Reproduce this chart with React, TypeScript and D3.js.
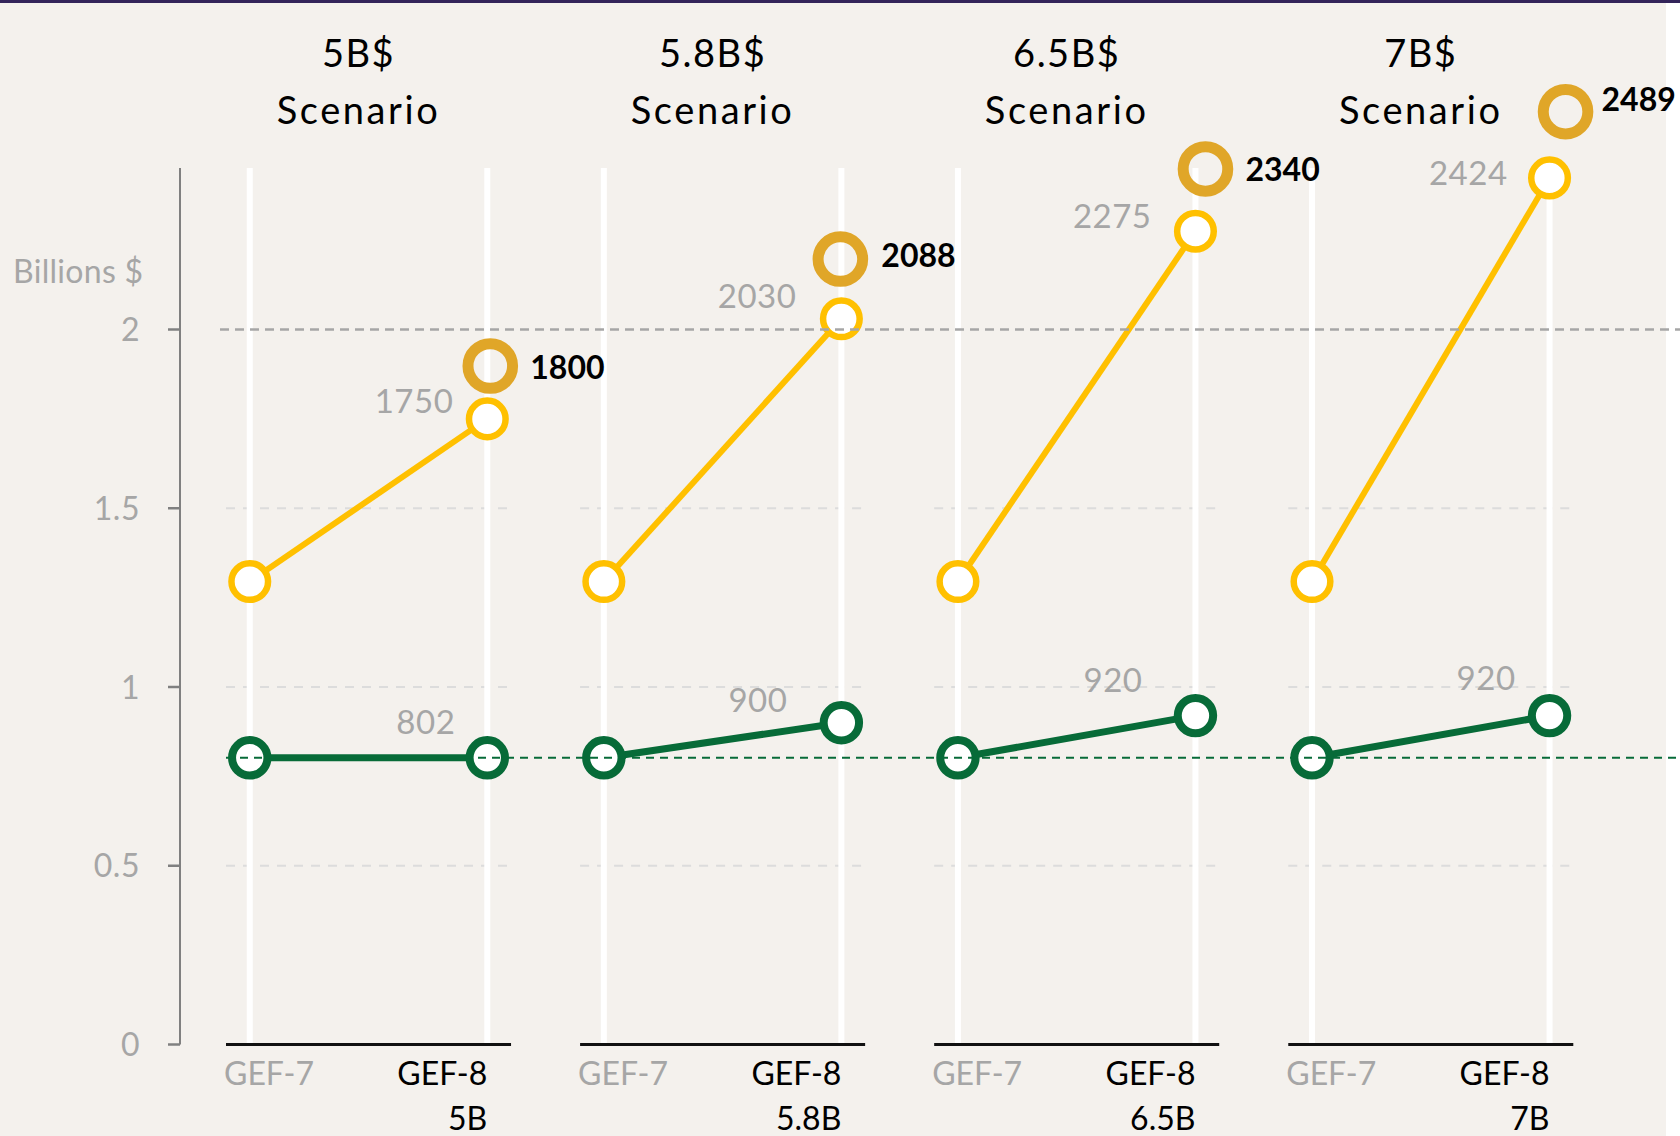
import React from 'react';
import * as d3 from 'd3';

// ---- data ----
const scenarios = ['5B$', '5.8B$', '6.5B$', '7B$'];
const scenarioShort = ['5B', '5.8B', '6.5B', '7B'];
const periods = ['GEF-7', 'GEF-8'];
const totalGef7 = [1.295, 1.295, 1.295, 1.295];
const totalGef8 = [1.75, 2.03, 2.275, 2.424];
const coreGef7 = [0.802, 0.802, 0.802, 0.802];
const coreGef8 = [0.802, 0.9, 0.92, 0.92];
const totalLabels = ['1750', '2030', '2275', '2424'];
const coreLabels = ['802', '900', '920', '920'];
const highlightValues = [1800, 2088, 2340, 2489];
const yTicks = [0, 0.5, 1, 1.5, 2];
const gridValues = [0.5, 1, 1.5];
const refTop = 2;
const refCore = 0.802;

// ---- layout nudges (pixels) ----
const totalLabelNudge = [[-34, -6], [-45, -11], [-44, -3], [-42, 7]];
const coreLabelNudge = [[-32, -24], [-54, -11], [-53, -24], [-34, -26]];
const ringNudge = [[3, -35], [-1, -39], [10, -39], [16, -43]];
const ringLabelNudge = [[40, 13], [41, 8], [40, 12], [36, -1]];

const W = 1680;
const H = 1136;
const FONT = 'Lato, "Open Sans", sans-serif';
const GREY = '#A6A6A6';
const YELLOW = '#FFC000';
const GREEN = '#076B38';
const ORANGE = '#E0A628';

export default function App() {
  const y = d3.scaleLinear().domain([0, 2]).range([1044.5, 329.5]);
  const panel = d3.scaleBand<string>().domain(scenarios).range([226, 1573.3]).paddingInner(0.195).paddingOuter(0);
  const bw = panel.bandwidth();
  const inner = d3.scalePoint<string>().domain(periods).range([0, bw]).padding(0.1);
  const line = d3.line<[number, number]>().x((d) => d[0]).y((d) => d[1]);

  const topY = 168;

  return (
    <svg width={W} height={H} style={{ position: 'absolute', left: 0, top: 0, display: 'block' }} fontFamily={FONT}>
      <rect x={0} y={0} width={W} height={H} fill="#FFFFFF" />
      <rect x={0} y={0} width={1666} height={H} fill="#F4F1ED" />
      <rect x={0} y={0} width={W} height={3} fill="#33245A" />

      {/* per-panel light grid */}
      {scenarios.map((s) => {
        const x0 = panel(s)!;
        return gridValues.map((g) => (
          <line key={s + g} x1={x0} x2={x0 + bw} y1={y(g)} y2={y(g)} stroke="#DCDCDC" strokeWidth={2} strokeDasharray="9 8" />
        ));
      })}

      {/* white verticals */}
      {scenarios.map((s) =>
        periods.map((p) => {
          const x = panel(s)! + inner(p)!;
          return <line key={s + p} x1={x} x2={x} y1={topY} y2={y(0)} stroke="#FFFFFF" strokeWidth={6} />;
        })
      )}

      {/* y axis */}
      <line x1={180} x2={180} y1={topY} y2={y(0)} stroke="#808080" strokeWidth={2} />
      {yTicks.map((t) => (
        <g key={t}>
          <line x1={168} x2={180} y1={y(t)} y2={y(t)} stroke="#808080" strokeWidth={2.5} />
          <text x={140} y={y(t)} dy="0.36em" textAnchor="end" fontSize={32} letterSpacing={0.5} fill={GREY}>
            {String(t)}
          </text>
        </g>
      ))}
      <text x={13} y={283} fontSize={32} letterSpacing={0.3} fill={GREY}>Billions $</text>

      {/* baselines */}
      {scenarios.map((s) => {
        const x0 = panel(s)!;
        return <line key={s} x1={x0} x2={x0 + bw} y1={y(0)} y2={y(0)} stroke="#111" strokeWidth={3} />;
      })}

      {/* titles */}
      {scenarios.map((s) => {
        const cx = panel(s)! + bw / 2 - 10;
        return (
          <g key={s}>
            <text x={cx} y={67} textAnchor="middle" fontSize={38} letterSpacing={1.5} fill="#000">{s}</text>
            <text x={cx} y={124} textAnchor="middle" fontSize={38} letterSpacing={2.6} fill="#000">Scenario</text>
          </g>
        );
      })}

      {/* x labels */}
      {scenarios.map((s, i) => {
        const x0 = panel(s)!;
        const x8 = x0 + inner('GEF-8')!;
        return (
          <g key={s}>
            <text x={x0 - 2} y={1085} fontSize={32} fill={GREY}>{periods[0]}</text>
            <text x={x8} y={1085} textAnchor="end" fontSize={32} fill="#000">{periods[1]}</text>
            <text x={x8} y={1130} textAnchor="end" fontSize={32} fill="#000">{scenarioShort[i]}</text>
          </g>
        );
      })}

      {/* total (yellow) series */}
      {scenarios.map((s, i) => {
        const x0 = panel(s)!;
        const xa = x0 + inner('GEF-7')!;
        const xb = x0 + inner('GEF-8')!;
        const pts: [number, number][] = [[xa, y(totalGef7[i])], [xb, y(totalGef8[i])]];
        return (
          <g key={s}>
            <path d={line(pts)!} stroke={YELLOW} strokeWidth={6} fill="none" />
            {pts.map((p, j) => (
              <circle key={j} cx={p[0]} cy={p[1]} r={18.3} fill="#FFFFFF" stroke={YELLOW} strokeWidth={6.5} />
            ))}
            <text x={xb + totalLabelNudge[i][0]} y={y(totalGef8[i]) + totalLabelNudge[i][1]} textAnchor="end" fontSize={33} letterSpacing={0.5} fill={GREY}>
              {totalLabels[i]}
            </text>
          </g>
        );
      })}

      {/* core (green) series */}
      {scenarios.map((s, i) => {
        const x0 = panel(s)!;
        const xa = x0 + inner('GEF-7')!;
        const xb = x0 + inner('GEF-8')!;
        const pts: [number, number][] = [[xa, y(coreGef7[i])], [xb, y(coreGef8[i])]];
        return (
          <g key={s}>
            <path d={line(pts)!} stroke={GREEN} strokeWidth={7} fill="none" />
            {pts.map((p, j) => (
              <circle key={j} cx={p[0]} cy={p[1]} r={17.7} fill="#FFFFFF" stroke={GREEN} strokeWidth={8} />
            ))}
            <text x={xb + coreLabelNudge[i][0]} y={y(coreGef8[i]) + coreLabelNudge[i][1]} textAnchor="end" fontSize={33} letterSpacing={0.5} fill={GREY}>
              {coreLabels[i]}
            </text>
          </g>
        );
      })}

      {/* reference lines */}
      <line x1={220} x2={W} y1={y(refTop)} y2={y(refTop)} stroke={GREY} strokeWidth={2.5} strokeDasharray="9 6" />
      <line x1={226} x2={W} y1={y(refCore)} y2={y(refCore)} stroke={GREEN} strokeWidth={2} strokeDasharray="8 6" />

      {/* highlight rings */}
      {scenarios.map((s, i) => {
        const xb = panel(s)! + inner('GEF-8')!;
        const cx = xb + ringNudge[i][0];
        const cy = y(highlightValues[i] / 1000) + ringNudge[i][1];
        return (
          <g key={s}>
            <circle cx={cx} cy={cy} r={22.3} fill="none" stroke={ORANGE} strokeWidth={11} />
            <text x={cx + ringLabelNudge[i][0]} y={cy + ringLabelNudge[i][1]} fontSize={32} fontWeight={700} fill="#000">
              {String(highlightValues[i])}
            </text>
          </g>
        );
      })}
    </svg>
  );
}
